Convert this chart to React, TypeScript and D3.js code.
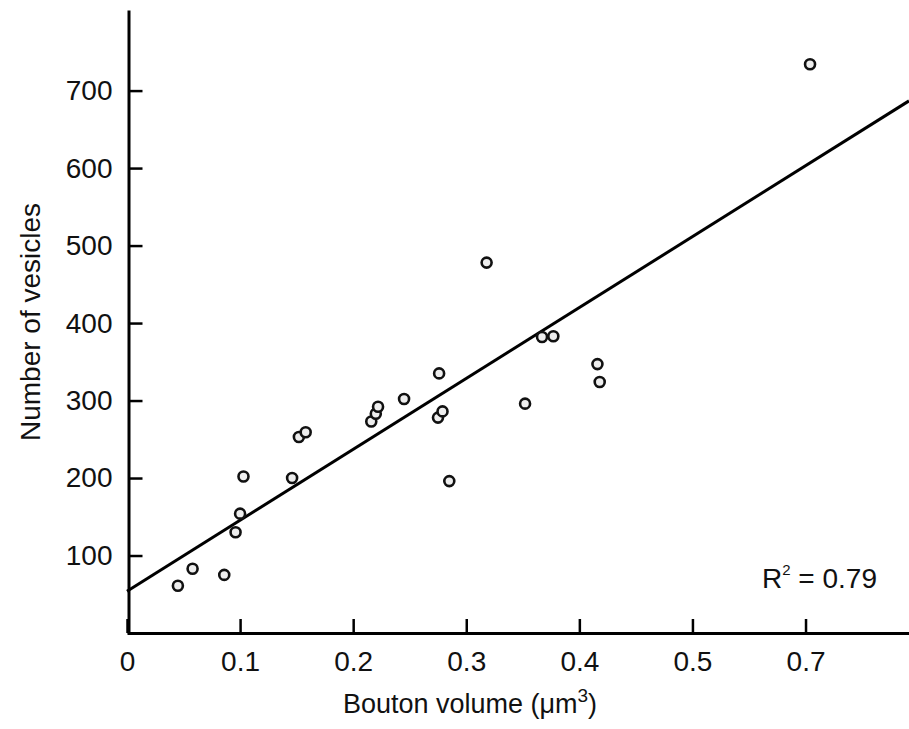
import React, { useEffect, useRef } from "react";
import { select, scaleLinear, axisBottom, axisLeft, line } from "d3";

// bouton volume (um^3) and vesicle count per bouton
const volume = [0.045, 0.058, 0.086, 0.096, 0.1, 0.103, 0.146, 0.152, 0.158, 0.216, 0.22, 0.222, 0.245, 0.276, 0.275, 0.279, 0.285, 0.318, 0.352, 0.367, 0.377, 0.416, 0.418, 0.604];
const vesicles = [61, 83, 75, 130, 154, 202, 200, 253, 259, 273, 283, 292, 302, 335, 278, 286, 196, 478, 296, 382, 383, 347, 324, 734];

const xTicks = [0, 0.1, 0.2, 0.3, 0.4, 0.5, 0.6];
const xTickLabels = ["0", "0.1", "0.2", "0.3", "0.4", "0.5", "0.7"];
const yTicks = [100, 200, 300, 400, 500, 600, 700];

// linear fit
const intercept = 54;
const slope = 915;
const r2 = "0.79";

function App() {
    const ref = useRef(null);

    let width = 909, height = 729;
    let margin = { top: 10, right: 0, bottom: 96, left: 127 };

    useEffect(() => {
        draw();
    }, []);

    const draw = () => {
        const svg = select(ref.current);
        svg.selectAll("*").remove();

        let xScale = scaleLinear().domain([0, 0.6915]).range([margin.left, width - margin.right]),
            yScale = scaleLinear().domain([0, 804]).range([height - margin.bottom, margin.top]);

        const font = "Liberation Sans, Arial, sans-serif";
        const fs = 28;

        const xAxis = axisBottom(xScale)
            .tickValues(xTicks)
            .tickFormat((d, i) => xTickLabels[i])
            .tickSize(-14)
            .tickSizeOuter(0)
            .tickPadding(18);

        const gx = svg.append("g")
            .attr("transform", "translate(0," + (height - margin.bottom) + ")")
            .call(xAxis);
        gx.select(".domain").attr("stroke-width", 3);
        gx.selectAll(".tick line").attr("stroke-width", 2.5);
        gx.selectAll(".tick text").attr("font-size", fs).attr("font-family", font).attr("fill", "#111");

        const yAxis = axisLeft(yScale)
            .tickValues(yTicks)
            .tickSize(-14)
            .tickSizeOuter(0)
            .tickPadding(16);

        const gy = svg.append("g")
            .attr("transform", "translate(" + (margin.left + 1.5) + ",0)")
            .call(yAxis);
        gy.select(".domain").attr("stroke-width", 3);
        gy.selectAll(".tick line").attr("stroke-width", 2.5);
        gy.selectAll(".tick text").attr("font-size", fs).attr("font-family", font).attr("fill", "#111");

        // regression line
        const fitLine = line()
            .x(d => xScale(d))
            .y(d => yScale(intercept + slope * d));
        svg.append("path")
            .datum([0, 0.6915])
            .attr("d", fitLine)
            .attr("fill", "none")
            .attr("stroke", "#000")
            .attr("stroke-width", 3);

        svg.selectAll(".pt")
            .data(volume)
            .join("circle")
            .attr("class", "pt")
            .attr("cx", d => xScale(d))
            .attr("cy", (d, i) => yScale(vesicles[i]))
            .attr("r", 5)
            .attr("fill", "#eee")
            .attr("stroke", "#111")
            .attr("stroke-width", 2.6);

        // axis titles
        svg.append("text")
            .attr("x", 470)
            .attr("y", 713)
            .attr("text-anchor", "middle")
            .attr("font-size", 27)
            .attr("font-family", font)
            .attr("fill", "#111")
            .html("Bouton volume (&#956;m<tspan dy='-11' font-size='19'>3</tspan><tspan dy='11'>)</tspan>");

        svg.append("text")
            .attr("transform", "translate(40,322) rotate(-90)")
            .attr("text-anchor", "middle")
            .attr("font-size", 28)
            .attr("font-family", font)
            .attr("fill", "#111")
            .text("Number of vesicles");

        svg.append("text")
            .attr("x", 762)
            .attr("y", 588)
            .attr("font-size", 28)
            .attr("font-family", font)
            .attr("fill", "#111")
            .html("R<tspan dy='-13' font-size='15'>2</tspan><tspan dy='13'> = " + r2 + "</tspan>");
    };

    return (
        <div>
            <svg ref={ref} width={width} height={height} style={{ position: "absolute", left: 0, top: 0, background: "#fff" }} />
        </div>
    );
}

export default App;
